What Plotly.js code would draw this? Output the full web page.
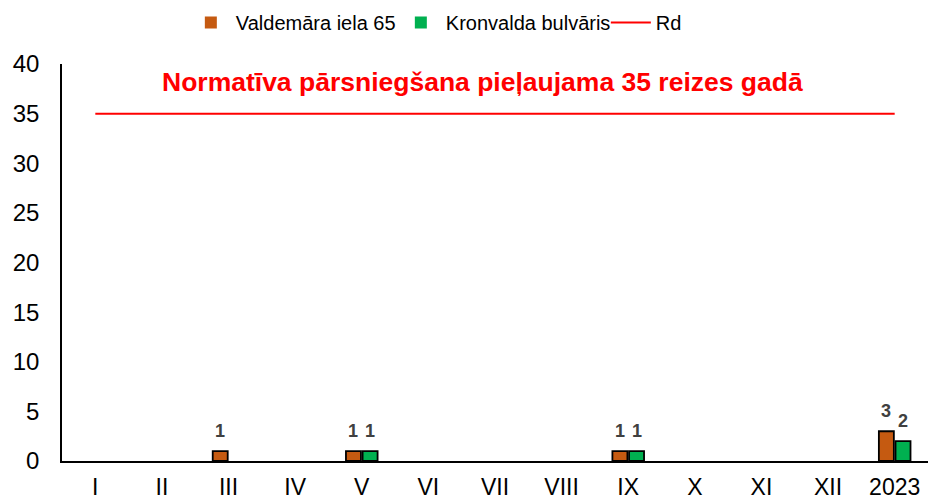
<!DOCTYPE html>
<html><head><meta charset="utf-8">
<script src="https://cdn.plot.ly/plotly-3.0.1.min.js"></script>
<style>body{margin:0;}#chart{width:928px;height:502px;}</style>
</head><body><div id="chart"></div>
<script>
const categories = ["I","II","III","IV","V","VI","VII","VIII","IX","X","XI","XII","2023"];
const valdemara = [0,0,1,0,1,0,0,0,1,0,0,0,3];
const kronvalda = [0,0,0,0,1,0,0,0,1,0,0,0,2];
const rd = [35,35,35,35,35,35,35,35,35,35,35,35,35];
const titleText = "Normatīva pārsniegšana pieļaujama 35 reizes gadā";

const FONT = "Liberation Sans, Arial, sans-serif";
const labelFont = {family:FONT, size:18, color:"#404040"};
const lw = a => a.map(v => v ? 1.8 : 0);

const data = [
  {type:"bar", name:"Valdemāra iela 65", x:categories, y:valdemara,
   marker:{color:"#C55A11", line:{color:"#000", width:lw(valdemara)}}},
  {type:"bar", name:"Kronvalda bulvāris", x:categories, y:kronvalda,
   marker:{color:"#00B050", line:{color:"#000", width:lw(kronvalda)}}},
  {type:"scatter", mode:"lines", name:"Rd", x:categories, y:rd,
   line:{color:"#FF0000", width:2}}
];

const annotations = [{text:"<b>"+titleText+"</b>", xref:"paper", yref:"paper",
    x:0.485, y:0.955, showarrow:false, yanchor:"middle",
    font:{size:26.5, color:"#FF0000", family:FONT}}];
[[valdemara,-8.5],[kronvalda,8.5]].forEach(([arr,dx]) => {
  arr.forEach((v,i) => {
    if (v) annotations.push({text:"<b>"+v+"</b>", x:i, y:v,
      xref:"x", yref:"y", showarrow:false, yanchor:"bottom", xshift:dx, yshift:8,
      font:labelFont});
  });
});

const layout = {
  width:928, height:502,
  margin:{l:62, r:0, t:64, b:41},
  paper_bgcolor:"#fff", plot_bgcolor:"#fff",
  font:{family:FONT, size:20, color:"#000"},
  barmode:"group", bargap:0.5, bargroupgap:0.1,
  showlegend:true,
  legend:{orientation:"h", x:0.143, xanchor:"left", yref:"container", y:0.955, yanchor:"middle",
          font:{size:20, color:"#000"}, traceorder:"normal", entrywidth:155, itemwidth:40},
  xaxis:{type:"category", range:[-0.5, categories.length-0.5], showline:true, linecolor:"#000", linewidth:2,
         ticks:"", showgrid:false, zeroline:false, ticklabelstandoff:4,
         tickfont:{size:23, color:"#000"}},
  yaxis:{range:[0,40], dtick:5, showline:true, linecolor:"#000", linewidth:1.5,
         ticks:"", showgrid:false, zeroline:false, ticklabelstandoff:16,
         tickfont:{size:24, color:"#000"}},
  annotations:annotations
};

Plotly.newPlot("chart", data, layout, {displayModeBar:false});
</script></body></html>
